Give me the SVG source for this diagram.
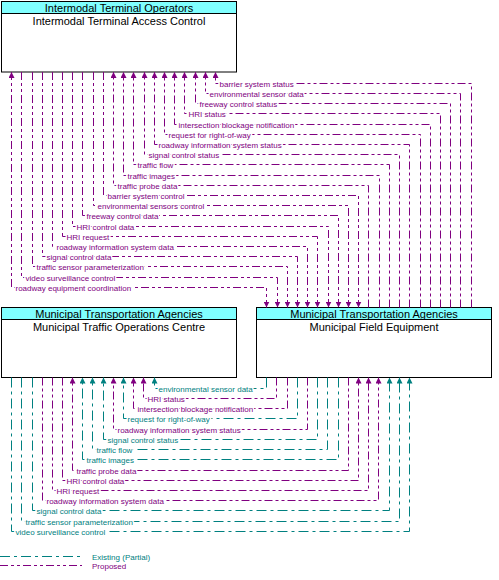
<svg xmlns="http://www.w3.org/2000/svg" width="499" height="580" viewBox="0 0 499 580">
<style>
.box{fill:#fff;stroke:#000;stroke-width:1}
.hdr{fill:#80ffff;stroke:#000;stroke-width:1}
.bt{font-family:"Liberation Sans",Arial,sans-serif;font-size:11px;fill:#000;text-anchor:middle}
.p{fill:none;stroke:#800080;stroke-width:1;stroke-dasharray:8,3,3,3,3,3}
.e{fill:none;stroke:#008080;stroke-width:1;stroke-dasharray:10,4,3,4}
.lb{font-family:"Liberation Sans",Arial,sans-serif;font-size:8px;paint-order:stroke;stroke:#fff;stroke-width:3px;stroke-linejoin:round}
.lp{fill:#800080}
.le{fill:#008080}
.lg{font-family:"Liberation Sans",Arial,sans-serif;font-size:8px}
</style>
<defs>
<marker id="ap" viewBox="0 0 10 10" refX="10" refY="5" markerWidth="6" markerHeight="6" markerUnits="userSpaceOnUse" orient="auto-start-reverse"><path d="M0,0 L10,5 L0,10 z" fill="#800080"/></marker>
<marker id="ae" viewBox="0 0 10 10" refX="10" refY="5" markerWidth="6" markerHeight="6" markerUnits="userSpaceOnUse" orient="auto-start-reverse"><path d="M0,0 L10,5 L0,10 z" fill="#008080"/></marker>
</defs>

<g id="itac">
<rect class="box" x="1.5" y="1.5" width="235" height="70.5"/>
<rect class="hdr" x="1.5" y="1.5" width="235" height="12"/>
<text class="bt" x="119" y="11.5">Intermodal Terminal Operators</text>
<text class="bt" x="119" y="24.5">Intermodal Terminal Access Control</text>
</g>
<g id="mtoc">
<rect class="box" x="1.5" y="307.5" width="235" height="70"/>
<rect class="hdr" x="1.5" y="307.5" width="235" height="12"/>
<text class="bt" x="119" y="317.5">Municipal Transportation Agencies</text>
<text class="bt" x="119" y="330.5">Municipal Traffic Operations Centre</text>
</g>
<g id="mfe">
<rect class="box" x="256.5" y="307.5" width="235" height="70"/>
<rect class="hdr" x="256.5" y="307.5" width="235" height="12"/>
<text class="bt" x="374" y="317.5">Municipal Transportation Agencies</text>
<text class="bt" x="374" y="330.5">Municipal Field Equipment</text>
</g>

<g id="connectors">
<path class="p" marker-end="url(#ap)" d="M471.5,307.5 V83.5 H215.5 V72"/>
<path class="p" marker-end="url(#ap)" d="M460.5,307.5 V93.5 H205.5 V72"/>
<path class="p" marker-end="url(#ap)" d="M450.5,307.5 V103.5 H195.5 V72"/>
<path class="p" marker-end="url(#ap)" d="M440.5,307.5 V113.5 H184.5 V72"/>
<path class="p" marker-end="url(#ap)" d="M430.5,307.5 V124.5 H174.5 V72"/>
<path class="p" marker-end="url(#ap)" d="M420.5,307.5 V134.5 H164.5 V72"/>
<path class="p" marker-end="url(#ap)" d="M409.5,307.5 V144.5 H154.5 V72"/>
<path class="p" marker-end="url(#ap)" d="M399.5,307.5 V154.5 H144.5 V72"/>
<path class="p" marker-end="url(#ap)" d="M389.5,307.5 V164.5 H133.5 V72"/>
<path class="p" marker-end="url(#ap)" d="M379.5,307.5 V175.5 H123.5 V72"/>
<path class="p" marker-end="url(#ap)" d="M368.5,307.5 V185.5 H113.5 V72"/>
<path class="p" marker-end="url(#ap)" d="M103.5,72 V195.5 H358.5 V307.5"/>
<path class="p" marker-end="url(#ap)" d="M93.5,72 V205.5 H348.5 V307.5"/>
<path class="p" marker-end="url(#ap)" d="M82.5,72 V215.5 H338.5 V307.5"/>
<path class="p" marker-end="url(#ap)" d="M72.5,72 V226.5 H328.5 V307.5"/>
<path class="p" marker-end="url(#ap)" d="M62.5,72 V236.5 H317.5 V307.5"/>
<path class="p" marker-end="url(#ap)" d="M52.5,72 V246.5 H307.5 V307.5"/>
<path class="p" marker-end="url(#ap)" d="M42.5,72 V256.5 H297.5 V307.5"/>
<path class="p" marker-end="url(#ap)" d="M32.5,72 V266.5 H287.5 V307.5"/>
<path class="p" marker-end="url(#ap)" d="M21.5,72 V277.5 H277.5 V307.5"/>
<path class="p" marker-start="url(#ap)" marker-end="url(#ap)" d="M11.5,72 V287.5 H266.5 V307.5"/>

<path class="e" marker-end="url(#ae)" d="M266.5,377.5 V388.5 H154.5 V377.5"/>
<path class="p" marker-end="url(#ap)" d="M276.5,377.5 V398.5 H143.5 V377.5"/>
<path class="p" marker-end="url(#ap)" d="M287.5,377.5 V408.5 H133.5 V377.5"/>
<path class="e" marker-end="url(#ae)" d="M297.5,377.5 V418.5 H123.5 V377.5"/>
<path class="p" marker-end="url(#ap)" d="M307.5,377.5 V429.5 H113.5 V377.5"/>
<path class="e" marker-end="url(#ae)" d="M317.5,377.5 V439.5 H103.5 V377.5"/>
<path class="e" marker-end="url(#ae)" d="M327.5,377.5 V449.5 H92.5 V377.5"/>
<path class="e" marker-end="url(#ae)" d="M338.5,377.5 V459.5 H82.5 V377.5"/>
<path class="p" marker-end="url(#ap)" d="M348.5,377.5 V470.5 H72.5 V377.5"/>
<path class="p" marker-end="url(#ap)" d="M62.5,377.5 V480.5 H358.5 V377.5"/>
<path class="p" marker-end="url(#ap)" d="M52.5,377.5 V490.5 H368.5 V377.5"/>
<path class="p" marker-end="url(#ap)" d="M42.5,377.5 V500.5 H378.5 V377.5"/>
<path class="e" marker-end="url(#ae)" d="M32.5,377.5 V510.5 H389.5 V377.5"/>
<path class="e" marker-end="url(#ae)" d="M21.5,377.5 V521.5 H399.5 V377.5"/>
<path class="e" marker-end="url(#ae)" d="M11.5,377.5 V531.5 H409.5 V377.5"/>
</g>

<g id="labels">
<text class="lb lp" x="219.5" y="86.5">barrier system status</text>
<text class="lb lp" x="209.5" y="96.5">environmental sensor data</text>
<text class="lb lp" x="199.5" y="106.5">freeway control status</text>
<text class="lb lp" x="188.5" y="116.5">HRI status</text>
<text class="lb lp" x="178.5" y="127.5">intersection blockage notification</text>
<text class="lb lp" x="168.5" y="137.5">request for right-of-way</text>
<text class="lb lp" x="158.5" y="147.5">roadway information system status</text>
<text class="lb lp" x="148.5" y="157.5">signal control status</text>
<text class="lb lp" x="137.5" y="167.5">traffic flow</text>
<text class="lb lp" x="127.5" y="178.5">traffic images</text>
<text class="lb lp" x="117.5" y="188.5">traffic probe data</text>
<text class="lb lp" x="107.5" y="198.5">barrier system control</text>
<text class="lb lp" x="97.5" y="208.5">environmental sensors control</text>
<text class="lb lp" x="86.5" y="218.5">freeway control data</text>
<text class="lb lp" x="76.5" y="229.5">HRI control data</text>
<text class="lb lp" x="66.5" y="239.5">HRI request</text>
<text class="lb lp" x="56.5" y="249.5">roadway information system data</text>
<text class="lb lp" x="46.5" y="259.5">signal control data</text>
<text class="lb lp" x="36.5" y="269.5">traffic sensor parameterization</text>
<text class="lb lp" x="25.5" y="280.5">video surveillance control</text>
<text class="lb lp" x="15.5" y="290.5">roadway equipment coordination</text>

<text class="lb le" x="158.5" y="391.5">environmental sensor data</text>
<text class="lb lp" x="147.5" y="401.5">HRI status</text>
<text class="lb lp" x="137.5" y="411.5">intersection blockage notification</text>
<text class="lb le" x="127.5" y="421.5">request for right-of-way</text>
<text class="lb lp" x="117.5" y="432.5">roadway information system status</text>
<text class="lb le" x="107.5" y="442.5">signal control status</text>
<text class="lb le" x="96.5" y="452.5">traffic flow</text>
<text class="lb le" x="86.5" y="462.5">traffic images</text>
<text class="lb lp" x="76.5" y="473.5">traffic probe data</text>
<text class="lb lp" x="66.5" y="483.5">HRI control data</text>
<text class="lb lp" x="56.5" y="493.5">HRI request</text>
<text class="lb lp" x="46.5" y="503.5">roadway information system data</text>
<text class="lb le" x="36.5" y="513.5">signal control data</text>
<text class="lb le" x="25.5" y="524.5">traffic sensor parameterization</text>
<text class="lb le" x="15.5" y="534.5">video surveillance control</text>
</g>

<g id="legend">
<path class="e" d="M0,556.5 H82"/>
<path class="p" d="M0,565.5 H82"/>
<text class="lg le" x="92" y="559.5">Existing (Partial)</text>
<text class="lg lp" x="92" y="568.5">Proposed</text>
</g>
</svg>
